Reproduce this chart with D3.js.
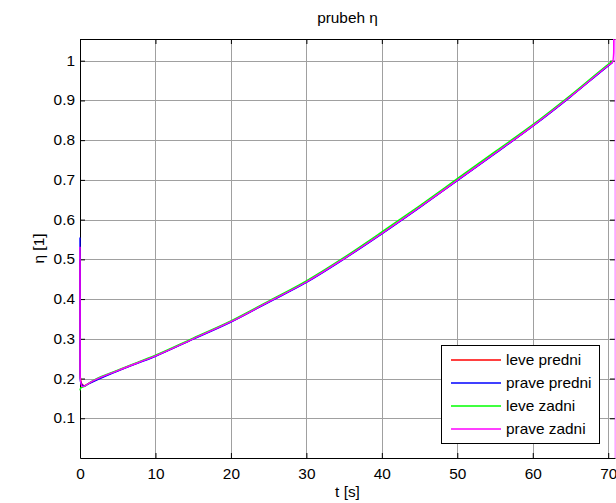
<!DOCTYPE html>
<html><head><meta charset="utf-8">
<script src="https://cdn.jsdelivr.net/npm/d3@7"></script>
<style>
html,body{margin:0;padding:0;background:#fff;}
svg{display:block;font-family:"Liberation Sans",Arial,Helvetica,sans-serif;}
</style></head>
<body>
<svg id="chart" width="616" height="503"></svg>
<script>
// ---- data ----
const titleText = "prubeh η";
const xLabel = "t [s]";
const yLabel = "η [1]";
const xTicks = [0, 10, 20, 30, 40, 50, 60, 70];
const yTicks = [0.1, 0.2, 0.3, 0.4, 0.5, 0.6, 0.7, 0.8, 0.9, 1];
const seriesNames = ["leve predni", "prave predni", "leve zadni", "prave zadni"];
const seriesColors = ["#ff0000", "#0000ff", "#00ff00", "#ff00ff"];
const timeA = [0, 0.02, 0.1, 0.3, 0.6, 1, 5, 10, 15, 20, 25, 30, 35, 40, 45, 50, 55, 60, 65, 70, 70.6];
const timeM = [0, 0.02, 0.1, 0.3, 0.6, 1, 5, 10, 15, 20, 25, 30, 35, 40, 45, 50, 55, 60, 65, 70, 70.6, 70.72, 70.8, 70.95, 70.97];
const levePredni  = [0.500, 0.210, 0.195, 0.185, 0.182, 0.186, 0.220, 0.257, 0.300, 0.343, 0.393, 0.443, 0.502, 0.565, 0.631, 0.699, 0.767, 0.836, 0.910, 0.988, 0.997];
const pravePredni = [0.555, 0.200, 0.190, 0.183, 0.181, 0.185, 0.219, 0.256, 0.299, 0.342, 0.392, 0.442, 0.501, 0.564, 0.630, 0.698, 0.766, 0.835, 0.909, 0.987, 0.996];
const leveZadni   = [0.170, 0.172, 0.176, 0.178, 0.180, 0.186, 0.221, 0.259, 0.302, 0.345, 0.395, 0.446, 0.505, 0.569, 0.635, 0.703, 0.771, 0.839, 0.913, 0.991, 1.000];
const praveZadni  = [0.532, 0.205, 0.190, 0.180, 0.181, 0.186, 0.220, 0.257, 0.300, 0.343, 0.393, 0.443, 0.502, 0.565, 0.631, 0.699, 0.767, 0.836, 0.910, 0.988, 0.997, 1.020, 1.400, 1.400, -0.500];

const seriesData = [
  {name: seriesNames[0], color: seriesColors[0], t: timeA, v: levePredni},
  {name: seriesNames[1], color: seriesColors[1], t: timeA, v: pravePredni},
  {name: seriesNames[2], color: seriesColors[2], t: timeA, v: leveZadni},
  {name: seriesNames[3], color: seriesColors[3], t: timeM, v: praveZadni}
];

// ---- layout ----
const L = 80, R = 615, T = 39, B = 458;
const FS = 14, SX = 1.1;
const svg = d3.select("#chart");
const x = d3.scaleLinear().domain([0, 70.9]).range([L, R]);
const y = d3.scaleLinear().domain([0, 1.0546]).range([B, T]);

// grid
const grid = svg.append("g");
grid.selectAll(".gx").data(xTicks.filter(d => d > 0)).join("line")
  .attr("x1", d => Math.round(x(d)) + 0.5).attr("x2", d => Math.round(x(d)) + 0.5)
  .attr("y1", T).attr("y2", B).attr("stroke", "#a0a0a0").attr("stroke-width", 1);
grid.selectAll(".gy").data(yTicks).join("line")
  .attr("y1", d => Math.round(y(d)) + 0.5).attr("y2", d => Math.round(y(d)) + 0.5)
  .attr("x1", L).attr("x2", R).attr("stroke", "#a0a0a0").attr("stroke-width", 1);

// axes
const xAxis = svg.append("g").attr("transform", `translate(0,${B})`)
  .call(d3.axisBottom(x).tickValues(xTicks).tickFormat(d3.format("d")).tickSizeInner(-5).tickSizeOuter(0).tickPadding(11));
const xAxisTop = svg.append("g").attr("transform", `translate(0,${T})`)
  .call(d3.axisTop(x).tickValues(xTicks).tickFormat("").tickSizeInner(-5).tickSizeOuter(0));
const yAxis = svg.append("g").attr("transform", `translate(${L},0)`)
  .call(d3.axisLeft(y).tickValues(yTicks).tickFormat(d3.format("~g")).tickSizeInner(-5).tickSizeOuter(0).tickPadding(5));
const yAxisR = svg.append("g").attr("transform", `translate(${R},0)`)
  .call(d3.axisRight(y).tickValues(yTicks).tickFormat("").tickSizeInner(-5).tickSizeOuter(0));
[xAxis, xAxisTop, yAxis, yAxisR].forEach(g => {
  g.select(".domain").attr("stroke", "#000");
  g.selectAll(".tick line").attr("stroke", "#000");
  g.selectAll("text").attr("fill", "#000").attr("font-size", FS).attr("font-family", '"Liberation Sans",Arial,sans-serif');
});
yAxisR.select(".domain").remove();
xAxis.selectAll(".tick text").attr("transform", `scale(${SX},1)`);
yAxis.selectAll(".tick text").attr("x", -5 / SX).attr("transform", `scale(${SX},1)`);

// data lines (drawn over the axes, as in the original)
svg.append("defs").append("clipPath").attr("id", "clip")
  .append("rect").attr("x", L - 1).attr("y", T).attr("width", 615.35 - L + 1).attr("height", B - T);
const line = d3.line().x(d => x(d[0])).y(d => y(d[1])).curve(d3.curveMonotoneX);
svg.append("g").attr("clip-path", "url(#clip)")
  .selectAll("path").data(seriesData).join("path")
  .attr("d", s => line(s.t.map((t, i) => [t, s.v[i]])))
  .attr("fill", "none").attr("stroke", s => s.color).attr("stroke-width", 1.4);

// labels
svg.append("text").attr("transform", `translate(${(L + R) / 2},23) scale(${SX},1)`)
  .attr("text-anchor", "middle").attr("font-size", FS).text(titleText);
svg.append("text").attr("transform", `translate(${(L + R) / 2},497) scale(${SX},1)`)
  .attr("text-anchor", "middle").attr("font-size", FS).text(xLabel);
svg.append("text").attr("transform", `translate(44,${(T + B) / 2}) rotate(-90) scale(${SX},1)`)
  .attr("text-anchor", "middle").attr("font-size", FS).text(yLabel);

// legend
const lg = svg.append("g");
lg.append("rect").attr("x", 441.5).attr("y", 345.5).attr("width", 158).attr("height", 98)
  .attr("fill", "#fff").attr("stroke", "#000").attr("stroke-width", 1);
const rows = lg.selectAll(".row").data(seriesData).join("g")
  .attr("transform", (d, i) => `translate(0,${360 + i * 23})`);
rows.append("line").attr("x1", 451).attr("x2", 501).attr("y1", 0).attr("y2", 0)
  .attr("stroke", d => d.color).attr("stroke-width", 1.5);
rows.append("text").attr("transform", `translate(506,5) scale(${SX},1)`)
  .attr("font-size", FS).text(d => d.name);
</script>
</body></html>
